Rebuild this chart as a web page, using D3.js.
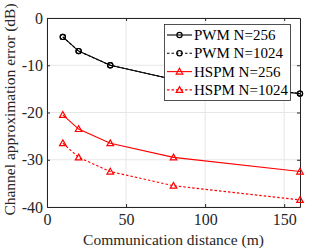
<!DOCTYPE html>
<html>
<head>
<meta charset="utf-8">
<script src="https://cdn.jsdelivr.net/npm/d3@7"></script>
<style>
  body { margin: 0; background: #fff; }
  svg text { font-family: "Liberation Serif", "Times New Roman", serif; }
</style>
</head>
<body>
<div id="chart"></div>
<script>
// data
const distances = [10, 20, 40, 80, 160];
const pwm256 = [-4, -7, -10, -13, -16];
const pwm1024 = [-4, -7, -10, -13, -16];
const hspm256 = [-20.5, -23.5, -26.5, -29.5, -32.5];
const hspm1024 = [-26.5, -29.5, -32.5, -35.5, -38.5];
const xTicks = [0, 50, 100, 150];
const yTicks = [0, -10, -20, -30, -40];
const seriesNames = ['PWM N=256', 'PWM N=1024', 'HSPM N=256', 'HSPM N=1024'];

const width = 332, height = 249;
const margin = { L: 47, R: 32, T: 18, B: 42 };

const series = [
  { name: seriesNames[0], vals: pwm256, color: '#000', dash: null, marker: 'circle' },
  { name: seriesNames[1], vals: pwm1024, color: '#000', dash: '2.5,2', marker: 'circle' },
  { name: seriesNames[2], vals: hspm256, color: '#ff0000', dash: null, marker: 'tri' },
  { name: seriesNames[3], vals: hspm1024, color: '#ff0000', dash: '2.5,2', marker: 'tri' }
];

const svg = d3.select('#chart').append('svg').attr('width', width).attr('height', height);

const x = d3.scaleLinear().domain([0, 160]).range([margin.L, width - margin.R]);
const y = d3.scaleLinear().domain([-40, 0]).range([height - margin.B, margin.T]);

// grid
svg.append('g').selectAll('line.gx').data(xTicks).enter().append('line')
  .attr('x1', d => x(d)).attr('x2', d => x(d))
  .attr('y1', y(-40)).attr('y2', y(0))
  .attr('stroke', '#e6e6e6').attr('stroke-width', 1);
svg.append('g').selectAll('line.gy').data(yTicks).enter().append('line')
  .attr('x1', x(0)).attr('x2', x(160))
  .attr('y1', d => y(d)).attr('y2', d => y(d))
  .attr('stroke', '#e6e6e6').attr('stroke-width', 1);

// axes
const axB = svg.append('g').attr('transform', `translate(0,${y(-40)})`)
  .call(d3.axisBottom(x).tickValues(xTicks).tickSizeInner(-3).tickSizeOuter(0).tickPadding(7));
const axL = svg.append('g').attr('transform', `translate(${x(0)},0)`)
  .call(d3.axisLeft(y).tickValues(yTicks).tickSizeInner(-3).tickSizeOuter(0).tickPadding(4));
const axT = svg.append('g').attr('transform', `translate(0,${y(0)})`)
  .call(d3.axisTop(x).tickValues(xTicks).tickSizeInner(-3).tickSizeOuter(0).tickFormat(''));
const axR = svg.append('g').attr('transform', `translate(${x(160)},0)`)
  .call(d3.axisRight(y).tickValues(yTicks).tickSizeInner(-3).tickSizeOuter(0).tickFormat(''));
[axB, axL, axT, axR].forEach(a => {
  a.selectAll('path, line').attr('stroke', '#262626');
  a.selectAll('text').attr('fill', '#262626').style('font-size', '16px')
    .style('font-family', '"Liberation Serif", serif');
});
axL.selectAll('text').text(d => d === 0 ? '0' : '-' + Math.abs(d));

const line = d3.line().x((d, i) => x(distances[i])).y(d => y(d));

function drawMarker(g, type, cx, cy, color) {
  if (type === 'circle') {
    g.append('circle').attr('cx', cx).attr('cy', cy).attr('r', 2.6)
      .attr('fill', 'none').attr('stroke', color).attr('stroke-width', 1.2);
  } else {
    const s = 3.3;
    g.append('path')
      .attr('d', `M${cx},${cy - s}L${cx + s},${cy + s * 0.75}L${cx - s},${cy + s * 0.75}Z`)
      .attr('fill', 'none').attr('stroke', color).attr('stroke-width', 1.2);
  }
}

// draw 1024 series first so solid lines sit on top
[1, 0, 3, 2].forEach(k => {
  const s = series[k];
  const g = svg.append('g');
  g.append('path').datum(s.vals).attr('d', line)
    .attr('fill', 'none').attr('stroke', s.color).attr('stroke-width', 1.1)
    .attr('stroke-dasharray', s.dash);
  s.vals.forEach((v, i) => drawMarker(g, s.marker, x(distances[i]), y(v), s.color));
});

// legend
const lg = svg.append('g');
lg.append('rect').attr('x', 164.5).attr('y', 24.5).attr('width', 126).attr('height', 76)
  .attr('fill', '#fff').attr('stroke', '#262626').attr('stroke-width', 0.8);
series.forEach((s, i) => {
  const ly = 35 + i * 18.3;
  lg.append('line').attr('x1', 167).attr('x2', 192).attr('y1', ly).attr('y2', ly)
    .attr('stroke', s.color).attr('stroke-width', 1.1).attr('stroke-dasharray', s.dash);
  drawMarker(lg, s.marker, 179.5, ly, s.color);
  lg.append('text').attr('x', 194).attr('y', ly + 5).text(s.name)
    .style('font-size', '15px').attr('fill', '#000');
});

// axis titles
svg.append('text').attr('x', (x(0) + x(160)) / 2).attr('y', height - 4)
  .attr('text-anchor', 'middle').style('font-size', '15.5px').attr('fill', '#262626')
  .text('Communication distance (m)');
svg.append('text').attr('transform', `translate(15,${(y(0) + y(-40)) / 2 - 3}) rotate(-90)`)
  .attr('text-anchor', 'middle').style('font-size', '15.5px').attr('fill', '#262626')
  .text('Channel approximation error (dB)');
</script>
</body>
</html>
